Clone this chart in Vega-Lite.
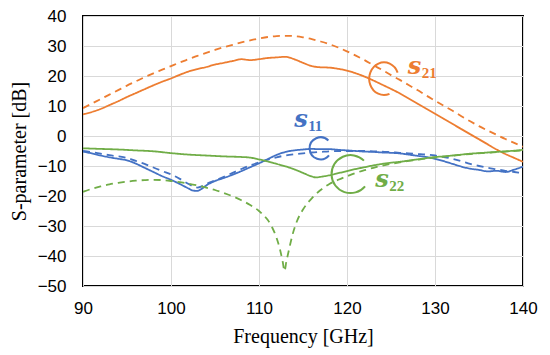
{
  "$schema": "https://vega.github.io/schema/vega-lite/v6.json",
  "width": 440,
  "height": 270,
  "autosize": {"type": "none"},
  "padding": {"left": 83, "top": 16, "right": 27, "bottom": 69},
  "background": "white",
  "config": {
    "view": {"stroke": "#000000", "strokeWidth": 2},
    "axis": {
      "grid": true, "gridColor": "#d9d9d9", "gridWidth": 1,
      "domain": false, "ticks": false, "labelOverlap": false, "labelFlush": false,
      "labelFont": "Liberation Sans", "labelFontSize": 17, "labelColor": "#000000",
      "titleFont": "Liberation Serif", "titleFontSize": 20, "titleFontWeight": "normal", "titleColor": "#000000"
    }
  },
  "datasets": {
    "lines": [
      {"f":90,"v":7.2,"param":"S21","kind":"meas"},{"f":91,"v":8,"param":"S21","kind":"meas"},{"f":92,"v":9,"param":"S21","kind":"meas"},{"f":93,"v":10.3,"param":"S21","kind":"meas"},{"f":94,"v":11.6,"param":"S21","kind":"meas"},{"f":95,"v":13,"param":"S21","kind":"meas"},{"f":96,"v":14.3,"param":"S21","kind":"meas"},{"f":97,"v":15.6,"param":"S21","kind":"meas"},{"f":98,"v":16.9,"param":"S21","kind":"meas"},{"f":99,"v":18.1,"param":"S21","kind":"meas"},{"f":100,"v":19.2,"param":"S21","kind":"meas"},{"f":101,"v":20.4,"param":"S21","kind":"meas"},{"f":102,"v":21.5,"param":"S21","kind":"meas"},{"f":103,"v":22.3,"param":"S21","kind":"meas"},{"f":104,"v":23,"param":"S21","kind":"meas"},{"f":105,"v":23.8,"param":"S21","kind":"meas"},{"f":106,"v":24.4,"param":"S21","kind":"meas"},{"f":107,"v":25,"param":"S21","kind":"meas"},{"f":108,"v":25.6,"param":"S21","kind":"meas"},{"f":109,"v":25.3,"param":"S21","kind":"meas"},{"f":110,"v":25.6,"param":"S21","kind":"meas"},{"f":111,"v":26,"param":"S21","kind":"meas"},{"f":112,"v":26.2,"param":"S21","kind":"meas"},{"f":113,"v":26.4,"param":"S21","kind":"meas"},{"f":114,"v":25.6,"param":"S21","kind":"meas"},{"f":115,"v":24.4,"param":"S21","kind":"meas"},{"f":116,"v":23.3,"param":"S21","kind":"meas"},{"f":117,"v":22.9,"param":"S21","kind":"meas"},{"f":118,"v":22.8,"param":"S21","kind":"meas"},{"f":119,"v":22.4,"param":"S21","kind":"meas"},{"f":120,"v":21.8,"param":"S21","kind":"meas"},{"f":121,"v":20.9,"param":"S21","kind":"meas"},{"f":122,"v":19.8,"param":"S21","kind":"meas"},{"f":123,"v":18.5,"param":"S21","kind":"meas"},{"f":124,"v":17.1,"param":"S21","kind":"meas"},{"f":125,"v":15.7,"param":"S21","kind":"meas"},{"f":126,"v":14.2,"param":"S21","kind":"meas"},{"f":127,"v":12.5,"param":"S21","kind":"meas"},{"f":128,"v":10.8,"param":"S21","kind":"meas"},{"f":129,"v":9.1,"param":"S21","kind":"meas"},{"f":130,"v":7.4,"param":"S21","kind":"meas"},{"f":131,"v":5.7,"param":"S21","kind":"meas"},{"f":132,"v":4,"param":"S21","kind":"meas"},{"f":133,"v":2.3,"param":"S21","kind":"meas"},{"f":134,"v":0.6,"param":"S21","kind":"meas"},{"f":135,"v":-1.1,"param":"S21","kind":"meas"},{"f":136,"v":-2.8,"param":"S21","kind":"meas"},{"f":137,"v":-4.5,"param":"S21","kind":"meas"},{"f":138,"v":-6,"param":"S21","kind":"meas"},{"f":139,"v":-7.3,"param":"S21","kind":"meas"},{"f":140,"v":-8.6,"param":"S21","kind":"meas"},

      {"f":90,"v":9.3,"param":"S21","kind":"sim"},{"f":91,"v":10.8,"param":"S21","kind":"sim"},{"f":92,"v":12.3,"param":"S21","kind":"sim"},{"f":93,"v":13.8,"param":"S21","kind":"sim"},{"f":94,"v":15.3,"param":"S21","kind":"sim"},{"f":95,"v":16.8,"param":"S21","kind":"sim"},{"f":96,"v":18.2,"param":"S21","kind":"sim"},{"f":97,"v":19.6,"param":"S21","kind":"sim"},{"f":98,"v":20.9,"param":"S21","kind":"sim"},{"f":99,"v":22.1,"param":"S21","kind":"sim"},{"f":100,"v":23.3,"param":"S21","kind":"sim"},{"f":101,"v":24.5,"param":"S21","kind":"sim"},{"f":102,"v":25.6,"param":"S21","kind":"sim"},{"f":103,"v":26.7,"param":"S21","kind":"sim"},{"f":104,"v":27.7,"param":"S21","kind":"sim"},{"f":105,"v":28.7,"param":"S21","kind":"sim"},{"f":106,"v":29.6,"param":"S21","kind":"sim"},{"f":107,"v":30.4,"param":"S21","kind":"sim"},{"f":108,"v":31.2,"param":"S21","kind":"sim"},{"f":109,"v":31.9,"param":"S21","kind":"sim"},{"f":110,"v":32.5,"param":"S21","kind":"sim"},{"f":111,"v":33,"param":"S21","kind":"sim"},{"f":112,"v":33.3,"param":"S21","kind":"sim"},{"f":113,"v":33.4,"param":"S21","kind":"sim"},{"f":114,"v":33.3,"param":"S21","kind":"sim"},{"f":115,"v":32.9,"param":"S21","kind":"sim"},{"f":116,"v":32.3,"param":"S21","kind":"sim"},{"f":117,"v":31.5,"param":"S21","kind":"sim"},{"f":118,"v":30.6,"param":"S21","kind":"sim"},{"f":119,"v":29.5,"param":"S21","kind":"sim"},{"f":120,"v":28.2,"param":"S21","kind":"sim"},{"f":121,"v":26.8,"param":"S21","kind":"sim"},{"f":122,"v":25.3,"param":"S21","kind":"sim"},{"f":123,"v":23.6,"param":"S21","kind":"sim"},{"f":124,"v":22,"param":"S21","kind":"sim"},{"f":125,"v":20.3,"param":"S21","kind":"sim"},{"f":126,"v":18.7,"param":"S21","kind":"sim"},{"f":127,"v":17,"param":"S21","kind":"sim"},{"f":128,"v":15.3,"param":"S21","kind":"sim"},{"f":129,"v":13.5,"param":"S21","kind":"sim"},{"f":130,"v":11.8,"param":"S21","kind":"sim"},{"f":131,"v":10.1,"param":"S21","kind":"sim"},{"f":132,"v":8.4,"param":"S21","kind":"sim"},{"f":133,"v":6.6,"param":"S21","kind":"sim"},{"f":134,"v":4.9,"param":"S21","kind":"sim"},{"f":135,"v":3.3,"param":"S21","kind":"sim"},{"f":136,"v":1.8,"param":"S21","kind":"sim"},{"f":137,"v":0.4,"param":"S21","kind":"sim"},{"f":138,"v":-1,"param":"S21","kind":"sim"},{"f":139,"v":-2.3,"param":"S21","kind":"sim"},{"f":140,"v":-3.6,"param":"S21","kind":"sim"},

      {"f":90,"v":-5.2,"param":"S11","kind":"meas"},{"f":91,"v":-5.8,"param":"S11","kind":"meas"},{"f":92,"v":-6.5,"param":"S11","kind":"meas"},{"f":93,"v":-7.1,"param":"S11","kind":"meas"},{"f":94,"v":-7.6,"param":"S11","kind":"meas"},{"f":95,"v":-8.1,"param":"S11","kind":"meas"},{"f":96,"v":-9.2,"param":"S11","kind":"meas"},{"f":97,"v":-10.6,"param":"S11","kind":"meas"},{"f":98,"v":-12,"param":"S11","kind":"meas"},{"f":99,"v":-13.4,"param":"S11","kind":"meas"},{"f":100,"v":-14.6,"param":"S11","kind":"meas"},{"f":101,"v":-16,"param":"S11","kind":"meas"},{"f":102,"v":-17.5,"param":"S11","kind":"meas"},{"f":102.5,"v":-18.2,"param":"S11","kind":"meas"},{"f":103,"v":-18.3,"param":"S11","kind":"meas"},{"f":103.5,"v":-17.6,"param":"S11","kind":"meas"},{"f":104,"v":-16.5,"param":"S11","kind":"meas"},{"f":105,"v":-15,"param":"S11","kind":"meas"},{"f":106,"v":-14,"param":"S11","kind":"meas"},{"f":107,"v":-12.9,"param":"S11","kind":"meas"},{"f":108,"v":-11.7,"param":"S11","kind":"meas"},{"f":109,"v":-10.4,"param":"S11","kind":"meas"},{"f":110,"v":-9.1,"param":"S11","kind":"meas"},{"f":111,"v":-7.7,"param":"S11","kind":"meas"},{"f":112,"v":-6.3,"param":"S11","kind":"meas"},{"f":113,"v":-5.3,"param":"S11","kind":"meas"},{"f":114,"v":-4.8,"param":"S11","kind":"meas"},{"f":115,"v":-4.5,"param":"S11","kind":"meas"},{"f":116,"v":-4.3,"param":"S11","kind":"meas"},{"f":117,"v":-4.4,"param":"S11","kind":"meas"},{"f":118,"v":-4.4,"param":"S11","kind":"meas"},{"f":119,"v":-4.6,"param":"S11","kind":"meas"},{"f":120,"v":-4.8,"param":"S11","kind":"meas"},{"f":121,"v":-5,"param":"S11","kind":"meas"},{"f":122,"v":-5.2,"param":"S11","kind":"meas"},{"f":123,"v":-5.3,"param":"S11","kind":"meas"},{"f":124,"v":-5.5,"param":"S11","kind":"meas"},{"f":125,"v":-5.6,"param":"S11","kind":"meas"},{"f":126,"v":-5.8,"param":"S11","kind":"meas"},{"f":127,"v":-6.2,"param":"S11","kind":"meas"},{"f":128,"v":-6.6,"param":"S11","kind":"meas"},{"f":129,"v":-7,"param":"S11","kind":"meas"},{"f":130,"v":-7.6,"param":"S11","kind":"meas"},{"f":131,"v":-8.4,"param":"S11","kind":"meas"},{"f":132,"v":-9.3,"param":"S11","kind":"meas"},{"f":133,"v":-10.2,"param":"S11","kind":"meas"},{"f":134,"v":-10.9,"param":"S11","kind":"meas"},{"f":135,"v":-11.3,"param":"S11","kind":"meas"},{"f":136,"v":-11.8,"param":"S11","kind":"meas"},{"f":137,"v":-11.6,"param":"S11","kind":"meas"},{"f":138,"v":-12,"param":"S11","kind":"meas"},{"f":139,"v":-11.2,"param":"S11","kind":"meas"},{"f":140,"v":-10.2,"param":"S11","kind":"meas"},

      {"f":90,"v":-5,"param":"S11","kind":"sim"},{"f":91,"v":-5.4,"param":"S11","kind":"sim"},{"f":92,"v":-5.9,"param":"S11","kind":"sim"},{"f":93,"v":-6.4,"param":"S11","kind":"sim"},{"f":94,"v":-6.8,"param":"S11","kind":"sim"},{"f":95,"v":-7.3,"param":"S11","kind":"sim"},{"f":96,"v":-8.3,"param":"S11","kind":"sim"},{"f":97,"v":-9.3,"param":"S11","kind":"sim"},{"f":98,"v":-10.5,"param":"S11","kind":"sim"},{"f":99,"v":-11.7,"param":"S11","kind":"sim"},{"f":100,"v":-12.8,"param":"S11","kind":"sim"},{"f":101,"v":-14.3,"param":"S11","kind":"sim"},{"f":102,"v":-16,"param":"S11","kind":"sim"},{"f":102.5,"v":-16.8,"param":"S11","kind":"sim"},{"f":103,"v":-17.2,"param":"S11","kind":"sim"},{"f":103.5,"v":-16.8,"param":"S11","kind":"sim"},{"f":104,"v":-16,"param":"S11","kind":"sim"},{"f":105,"v":-14.8,"param":"S11","kind":"sim"},{"f":106,"v":-13.6,"param":"S11","kind":"sim"},{"f":107,"v":-12.3,"param":"S11","kind":"sim"},{"f":108,"v":-11,"param":"S11","kind":"sim"},{"f":109,"v":-9.8,"param":"S11","kind":"sim"},{"f":110,"v":-8.8,"param":"S11","kind":"sim"},{"f":111,"v":-7.9,"param":"S11","kind":"sim"},{"f":112,"v":-7.1,"param":"S11","kind":"sim"},{"f":113,"v":-6.5,"param":"S11","kind":"sim"},{"f":114,"v":-6.1,"param":"S11","kind":"sim"},{"f":115,"v":-5.8,"param":"S11","kind":"sim"},{"f":116,"v":-5.5,"param":"S11","kind":"sim"},{"f":117,"v":-5.3,"param":"S11","kind":"sim"},{"f":118,"v":-5.1,"param":"S11","kind":"sim"},{"f":119,"v":-5,"param":"S11","kind":"sim"},{"f":120,"v":-5,"param":"S11","kind":"sim"},{"f":121,"v":-5,"param":"S11","kind":"sim"},{"f":122,"v":-5,"param":"S11","kind":"sim"},{"f":123,"v":-5.1,"param":"S11","kind":"sim"},{"f":124,"v":-5.2,"param":"S11","kind":"sim"},{"f":125,"v":-5.4,"param":"S11","kind":"sim"},{"f":126,"v":-5.6,"param":"S11","kind":"sim"},{"f":127,"v":-5.8,"param":"S11","kind":"sim"},{"f":128,"v":-6,"param":"S11","kind":"sim"},{"f":129,"v":-6.2,"param":"S11","kind":"sim"},{"f":130,"v":-6.5,"param":"S11","kind":"sim"},{"f":131,"v":-7,"param":"S11","kind":"sim"},{"f":132,"v":-7.6,"param":"S11","kind":"sim"},{"f":133,"v":-8.4,"param":"S11","kind":"sim"},{"f":134,"v":-9.3,"param":"S11","kind":"sim"},{"f":135,"v":-10,"param":"S11","kind":"sim"},{"f":136,"v":-10.6,"param":"S11","kind":"sim"},{"f":137,"v":-11.1,"param":"S11","kind":"sim"},{"f":138,"v":-11.6,"param":"S11","kind":"sim"},{"f":139,"v":-12,"param":"S11","kind":"sim"},{"f":140,"v":-12.4,"param":"S11","kind":"sim"},

      {"f":90,"v":-4.1,"param":"S22","kind":"meas"},{"f":92,"v":-4.3,"param":"S22","kind":"meas"},{"f":94,"v":-4.5,"param":"S22","kind":"meas"},{"f":96,"v":-4.8,"param":"S22","kind":"meas"},{"f":98,"v":-5.1,"param":"S22","kind":"meas"},{"f":100,"v":-5.7,"param":"S22","kind":"meas"},{"f":102,"v":-6.2,"param":"S22","kind":"meas"},{"f":104,"v":-6.5,"param":"S22","kind":"meas"},{"f":106,"v":-6.8,"param":"S22","kind":"meas"},{"f":108,"v":-7,"param":"S22","kind":"meas"},{"f":109,"v":-7.2,"param":"S22","kind":"meas"},{"f":110,"v":-7.8,"param":"S22","kind":"meas"},{"f":111,"v":-8.5,"param":"S22","kind":"meas"},{"f":112,"v":-9.3,"param":"S22","kind":"meas"},{"f":113,"v":-10.1,"param":"S22","kind":"meas"},{"f":114,"v":-11.1,"param":"S22","kind":"meas"},{"f":115,"v":-12.3,"param":"S22","kind":"meas"},{"f":116,"v":-13.5,"param":"S22","kind":"meas"},{"f":116.5,"v":-13.8,"param":"S22","kind":"meas"},{"f":117,"v":-13.6,"param":"S22","kind":"meas"},{"f":118,"v":-13.1,"param":"S22","kind":"meas"},{"f":119,"v":-12.4,"param":"S22","kind":"meas"},{"f":120,"v":-11.7,"param":"S22","kind":"meas"},{"f":121,"v":-11,"param":"S22","kind":"meas"},{"f":122,"v":-10.4,"param":"S22","kind":"meas"},{"f":123,"v":-9.8,"param":"S22","kind":"meas"},{"f":124,"v":-9.3,"param":"S22","kind":"meas"},{"f":125,"v":-8.9,"param":"S22","kind":"meas"},{"f":126,"v":-8.6,"param":"S22","kind":"meas"},{"f":127,"v":-8.2,"param":"S22","kind":"meas"},{"f":128,"v":-7.8,"param":"S22","kind":"meas"},{"f":129,"v":-7.4,"param":"S22","kind":"meas"},{"f":130,"v":-7,"param":"S22","kind":"meas"},{"f":131,"v":-6.8,"param":"S22","kind":"meas"},{"f":132,"v":-6.5,"param":"S22","kind":"meas"},{"f":133,"v":-6.2,"param":"S22","kind":"meas"},{"f":134,"v":-5.9,"param":"S22","kind":"meas"},{"f":135,"v":-5.7,"param":"S22","kind":"meas"},{"f":136,"v":-5.5,"param":"S22","kind":"meas"},{"f":137,"v":-5.3,"param":"S22","kind":"meas"},{"f":138,"v":-5.1,"param":"S22","kind":"meas"},{"f":139,"v":-4.9,"param":"S22","kind":"meas"},{"f":140,"v":-4.6,"param":"S22","kind":"meas"},

      {"f":90,"v":-18.6,"param":"S22","kind":"sim"},{"f":91,"v":-17.6,"param":"S22","kind":"sim"},{"f":92,"v":-16.8,"param":"S22","kind":"sim"},{"f":93,"v":-16.1,"param":"S22","kind":"sim"},{"f":94,"v":-15.6,"param":"S22","kind":"sim"},{"f":95,"v":-15.2,"param":"S22","kind":"sim"},{"f":96,"v":-14.9,"param":"S22","kind":"sim"},{"f":97,"v":-14.7,"param":"S22","kind":"sim"},{"f":98,"v":-14.6,"param":"S22","kind":"sim"},{"f":99,"v":-14.7,"param":"S22","kind":"sim"},{"f":100,"v":-15,"param":"S22","kind":"sim"},{"f":101,"v":-15.4,"param":"S22","kind":"sim"},{"f":102,"v":-15.9,"param":"S22","kind":"sim"},{"f":103,"v":-16.5,"param":"S22","kind":"sim"},{"f":104,"v":-17.2,"param":"S22","kind":"sim"},{"f":105,"v":-18,"param":"S22","kind":"sim"},{"f":106,"v":-19,"param":"S22","kind":"sim"},{"f":107,"v":-20.1,"param":"S22","kind":"sim"},{"f":108,"v":-21.4,"param":"S22","kind":"sim"},{"f":109,"v":-23,"param":"S22","kind":"sim"},{"f":110,"v":-25,"param":"S22","kind":"sim"},{"f":110.5,"v":-26.4,"param":"S22","kind":"sim"},{"f":111,"v":-28,"param":"S22","kind":"sim"},{"f":111.5,"v":-30.5,"param":"S22","kind":"sim"},{"f":112,"v":-34,"param":"S22","kind":"sim"},{"f":112.4,"v":-38,"param":"S22","kind":"sim"},{"f":112.7,"v":-42,"param":"S22","kind":"sim"},{"f":112.9,"v":-45,"param":"S22","kind":"sim"},{"f":113.1,"v":-42,"param":"S22","kind":"sim"},{"f":113.4,"v":-38,"param":"S22","kind":"sim"},{"f":113.8,"v":-33,"param":"S22","kind":"sim"},{"f":114.3,"v":-28.5,"param":"S22","kind":"sim"},{"f":115,"v":-24.5,"param":"S22","kind":"sim"},{"f":116,"v":-20.8,"param":"S22","kind":"sim"},{"f":117,"v":-18,"param":"S22","kind":"sim"},{"f":118,"v":-16,"param":"S22","kind":"sim"},{"f":119,"v":-14.6,"param":"S22","kind":"sim"},{"f":120,"v":-13.4,"param":"S22","kind":"sim"},{"f":121,"v":-12.3,"param":"S22","kind":"sim"},{"f":122,"v":-11.4,"param":"S22","kind":"sim"},{"f":123,"v":-10.6,"param":"S22","kind":"sim"},{"f":124,"v":-9.9,"param":"S22","kind":"sim"},{"f":125,"v":-9.3,"param":"S22","kind":"sim"},{"f":126,"v":-8.8,"param":"S22","kind":"sim"},{"f":127,"v":-8.3,"param":"S22","kind":"sim"},{"f":128,"v":-7.9,"param":"S22","kind":"sim"},{"f":129,"v":-7.5,"param":"S22","kind":"sim"},{"f":130,"v":-7.2,"param":"S22","kind":"sim"},{"f":132,"v":-6.6,"param":"S22","kind":"sim"},{"f":134,"v":-6,"param":"S22","kind":"sim"},{"f":136,"v":-5.6,"param":"S22","kind":"sim"},{"f":138,"v":-5.2,"param":"S22","kind":"sim"},{"f":140,"v":-4.8,"param":"S22","kind":"sim"}
    ],
    "rings": [
      {"f":124.2,"v":19.1,"param":"S21"},
      {"f":117.0,"v":-4.1,"param":"S11"},
      {"f":120.4,"v":-12.7,"param":"S22"}
    ],
    "labels": [
      {"f":126.9,"v":20.8,"param":"S21","main":"s","sub":"21"},
      {"f":114.0,"v":3.1,"param":"S11","main":"s","sub":"11"},
      {"f":123.2,"v":-16.9,"param":"S22","main":"s","sub":"22"}
    ]
  },
  "encoding": {
    "x": {"field": "f", "type": "quantitative", "title": "Frequency [GHz]",
          "scale": {"domain": [90, 140], "nice": false, "zero": false, "padding": 0},
          "axis": {"values": [90, 100, 110, 120, 130, 140], "labelPadding": 14, "titlePadding": 10}},
    "y": {"field": "v", "type": "quantitative", "title": "S-parameter [dB]",
          "scale": {"domain": [-50, 40], "nice": false, "zero": false, "padding": 0},
          "axis": {"values": [-50, -40, -30, -20, -10, 0, 10, 20, 30, 40], "labelPadding": 17, "titlePadding": 8}},
    "color": {"field": "param", "type": "nominal", "legend": null,
              "scale": {"domain": ["S11", "S21", "S22"], "range": ["#4472C4", "#ED7D31", "#70AD47"]}}
  },
  "layer": [
    {
      "data": {"name": "lines"},
      "mark": {"type": "line", "strokeWidth": 1.8, "interpolate": "monotone", "clip": true},
      "encoding": {
        "strokeDash": {"field": "kind", "type": "nominal", "legend": null,
                       "scale": {"domain": ["meas", "sim"], "range": [[1, 0], [7, 5]]}}
      }
    },
    {
      "data": {"name": "rings"},
      "mark": {"type": "point", "filled": false, "strokeWidth": 2, "opacity": 1},
      "encoding": {
        "size": {"field": "param", "type": "nominal", "legend": null,
                 "scale": {"domain": ["S11", "S21", "S22"], "range": [484, 1444, 576]}},
        "shape": {"field": "param", "type": "nominal", "legend": null,
                  "scale": {"domain": ["S11", "S21", "S22"],
                            "range": ["M 0.707 -0.707 A 1 1 0 1 0 0.766 0.643",
                                      "M 0.881 -0.393 A 0.95 1.05 0 1 0 0.356 0.974",
                                      "M 0.707 -0.707 A 1 1 0 1 0 0.766 0.643"]}}
      }
    },
    {
      "data": {"name": "labels"},
      "mark": {"type": "text", "align": "left", "baseline": "alphabetic", "font": "DejaVu Serif", "fontStyle": "italic", "fontWeight": "bold", "fontSize": 24},
      "encoding": {
        "text": {"field": "main"}
      }
    },
    {
      "data": {"name": "labels"},
      "mark": {"type": "text", "align": "left", "baseline": "alphabetic", "dx": 14, "dy": 4, "font": "Liberation Serif", "fontWeight": "bold", "fontSize": 15},
      "encoding": {
        "text": {"field": "sub"}
      }
    }
  ]
}
